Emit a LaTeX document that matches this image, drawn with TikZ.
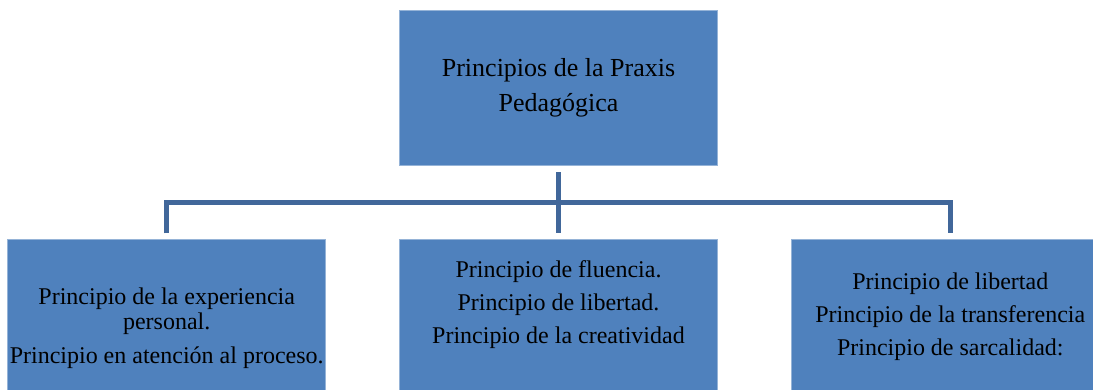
\documentclass[tikz,border=0pt]{standalone}
\usepackage{fontspec}
\setmainfont{Liberation Serif}
\usetikzlibrary{positioning}

\definecolor{boxblue}{HTML}{4F81BD}
\definecolor{lineblue}{HTML}{41679A}

\begin{document}
\begin{tikzpicture}[
  every node/.style={text=black},
  caja/.style={draw=boxblue!60!white, line width=0.8pt, fill=boxblue, minimum width=318pt, inner sep=0pt},
  texto/.style={align=center, inner sep=0pt, font=\fontsize{24}{33}\selectfont},
  conn/.style={draw=lineblue, line width=4.5pt}
]
\useasboundingbox (0,0) rectangle (1093pt,-390pt);
\clip (0,0) rectangle (1093pt,-390pt);

% titulo
\node[caja, minimum height=155pt] (top) at (558.5pt,-87.5pt) {};
\node[align=center, inner sep=0pt, font=\fontsize{26}{35}\selectfont] (ttop) at (top.center)
  {Principios de la Praxis\\Pedagógica};

% cajas de abajo
\node[caja, minimum height=151pt, below=74pt of top] (mid) {};
\node[caja, minimum height=151pt, left=73pt of mid] (izq) {};
\node[caja, minimum height=151pt, right=73pt of mid] (der) {};

\node[texto, font=\fontsize{24}{25.5}\selectfont] (tizq) at ([yshift=-13pt]izq.center)
  {Principio de la experiencia\\personal.\\[8.5pt]Principio en atención al proceso.};
\node[texto] (tmid) at ([yshift=10.5pt]mid.center)
  {Principio de fluencia.\\Principio de libertad.\\Principio de la creatividad};
\node[texto] (tder) at ([yshift=-1.5pt]der.center)
  {Principio de libertad\\Principio de la transferencia\\Principio de sarcalidad:};

% conectores
\coordinate (bus) at ([yshift=-37pt]top.south);
\draw[conn] ([yshift=-7pt]top.south) -- ([yshift=6pt]mid.north);
\draw[conn] ([yshift=6pt]izq.north) |- (bus) -| ([yshift=6pt]der.north);
\end{tikzpicture}
\end{document}
